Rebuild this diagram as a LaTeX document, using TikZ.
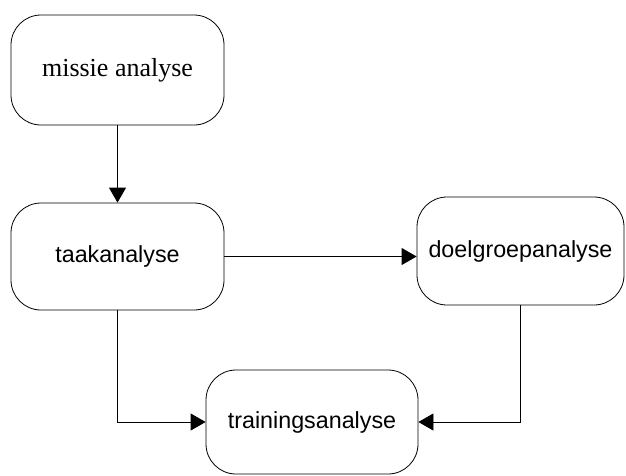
\documentclass[tikz,border=0pt]{standalone}
\usepackage{fontspec}
\setmainfont{Liberation Serif}
\newfontfamily\arial{Liberation Sans}
\usetikzlibrary{arrows.meta}
\begin{document}
\begin{tikzpicture}[x=1pt,y=-1pt,
		box/.style={draw,rounded corners=30pt,line width=0.8pt,inner sep=0pt},
		conn/.style={line width=0.8pt,-{Triangle[length=15pt,width=17pt]}}]
	\useasboundingbox (0,0) rectangle (626,475);
	\node [box,minimum width=213pt,minimum height=110pt,font=\fontsize{26}{30}\selectfont] (missie) at (117.5,70) {missie analyse};
	\node [box,minimum width=213pt,minimum height=107pt,font=\arial\fontsize{23.3}{28}\selectfont] (taak) at (117.5,256.5) {taakanalyse};
	\node [box,minimum width=207pt,minimum height=108pt,font=\arial\fontsize{23.3}{28}\selectfont] (doel) at (520.5,251) {doelgroepanalyse};
	\node [box,minimum width=212pt,minimum height=104pt,font=\arial\fontsize{23.3}{28}\selectfont] (training) at (312,422) {trainingsanalyse};
	\draw [conn] (missie) -- (taak);
	\draw [conn] (taak.east) -- (taak.east -| doel.west);
	\draw [conn] (taak.south) |- (training.west);
	\draw [conn] (doel.south) |- (training.east);
\end{tikzpicture}
\end{document}
